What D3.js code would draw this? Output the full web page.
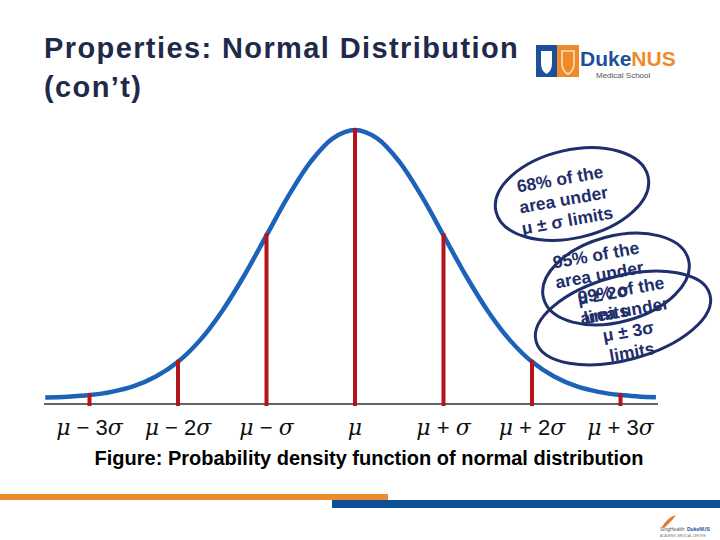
<!DOCTYPE html>
<html>
<head>
<meta charset="utf-8">
<script src="https://cdn.jsdelivr.net/npm/d3@7"></script>
<style>
  body { margin: 0; background: #fff; }
  svg { display: block; }
</style>
</head>
<body>
<svg width="720" height="540"></svg>
<script>
// values: height of the curve relative to its peak, in sigma steps
var zValues = [-3.5, -3.25, -3, -2.75, -2.5, -2.25, -2, -1.75, -1.5, -1.25, -1, -0.75, -0.5, -0.25,
               0, 0.25, 0.5, 0.75, 1, 1.25, 1.5, 1.75, 2, 2.25, 2.5, 2.75, 3, 3.2, 3.4];
var density = [0.002, 0.005, 0.011, 0.023, 0.044, 0.080, 0.135, 0.216, 0.325, 0.458, 0.607, 0.755, 0.882, 0.969,
               1, 0.969, 0.882, 0.755, 0.607, 0.458, 0.325, 0.216, 0.135, 0.080, 0.044, 0.023, 0.011, 0.006, 0.003];
var markerZ = [-3, -2, -1, 0, 1, 2, 3];
var markerDensity = [0.011, 0.135, 0.607, 1, 0.607, 0.135, 0.011];
// tick labels: [mu part, operator, coefficient, sigma]
var tickLabels = [
    ['μ', ' − ', '3', 'σ'],
    ['μ', ' − ', '2', 'σ'],
    ['μ', ' − ', '', 'σ'],
    ['μ', '', '', ''],
    ['μ', ' + ', '', 'σ'],
    ['μ', ' + ', '2', 'σ'],
    ['μ', ' + ', '3', 'σ']
];
var noteLines = [
    ['68% of the', 'area under', 'μ ± σ limits'],
    ['95% of the', 'area under', 'μ ± 2σ', 'limits'],
    ['99% of the', 'area under', 'μ ± 3σ', 'limits']
];

var svg = d3.select('svg');
var navy = '#1f2f6b';
var sans = 'Liberation Sans, Arial, sans-serif';

var x = d3.scaleLinear().domain([-3, 3]).range([89.5, 620.5]);
var y = d3.scaleLinear().domain([0, 1]).range([398, 130]);
var axisY = 404;

// title
var title = svg.append('g')
    .attr('font-family', sans)
    .attr('font-weight', 'bold')
    .attr('font-size', 29)
    .attr('letter-spacing', 1.4)
    .attr('fill', '#1f2a4a');
title.append('text').attr('x', 44).attr('y', 58).text('Properties: Normal Distribution');
title.append('text').attr('x', 44).attr('y', 97).text('(con’t)');

// top-right logo
var logo = svg.append('g').attr('transform', 'translate(536,45)');
logo.append('rect').attr('width', 21).attr('height', 32).attr('fill', '#1d4f9a');
logo.append('path').attr('d', 'M5,6 H16 V18 Q16,26 10.5,29 Q5,26 5,18 Z').attr('fill', '#fff');
logo.append('rect').attr('x', 21).attr('width', 22).attr('height', 32).attr('fill', '#ef8a2b');
logo.append('path').attr('d', 'M26,6 H38 V18 Q38,26 32,29 Q26,26 26,18 Z')
    .attr('fill', 'none').attr('stroke', '#fde3c8').attr('stroke-width', 1.5);
logo.append('text').attr('x', 44).attr('y', 21)
    .attr('font-family', sans).attr('font-weight', 'bold').attr('font-size', 21)
    .call(function (t) {
        t.append('tspan').attr('fill', '#1d4f9a').text('Duke');
        t.append('tspan').attr('fill', '#ef8a2b').text('NUS');
    });
logo.append('text').attr('x', 60).attr('y', 33)
    .attr('font-family', sans).attr('font-size', 8)
    .attr('fill', '#555').text('Medical School');

// axis line
svg.append('line')
    .attr('x1', 44).attr('x2', 658)
    .attr('y1', axisY).attr('y2', axisY)
    .attr('stroke', '#333').attr('stroke-width', 1.5);

// curve
var line = d3.line()
    .x(function (d) { return x(d[0]); })
    .y(function (d) { return y(d[1]); })
    .curve(d3.curveCatmullRom);

svg.append('path')
    .datum(d3.zip(zValues, density))
    .attr('d', line)
    .attr('fill', 'none')
    .attr('stroke', '#1c62b9')
    .attr('stroke-width', 4.5);

// red sigma markers
svg.append('g').selectAll('line')
    .data(d3.zip(markerZ, markerDensity))
    .enter().append('line')
    .attr('x1', function (d) { return x(d[0]); })
    .attr('x2', function (d) { return x(d[0]); })
    .attr('y1', axisY + 2)
    .attr('y2', function (d) { return y(d[1]) - 2; })
    .attr('stroke', '#b3151b')
    .attr('stroke-width', 4);

// tick labels
svg.append('g').selectAll('text')
    .data(d3.zip(markerZ, tickLabels))
    .enter().append('text')
    .attr('x', function (d) { return x(d[0]); })
    .attr('y', 435)
    .attr('text-anchor', 'middle')
    .attr('font-family', 'DejaVu Serif, serif')
    .attr('font-size', 22)
    .attr('fill', '#111')
    .each(function (d) {
        var t = d3.select(this), p = d[1];
        t.append('tspan').attr('font-style', 'italic').text(p[0]);
        if (p[1]) t.append('tspan').attr('font-family', sans).text(p[1]);
        if (p[2]) t.append('tspan').attr('font-family', sans).text(p[2]);
        if (p[3]) t.append('tspan').attr('font-style', 'italic').text(p[3]);
    });

// annotation ellipses
var ellipses = [
    { cx: 572, cy: 194, rx: 78, ry: 44, rot: -13 },
    { cx: 616, cy: 279, rx: 75, ry: 43, rot: -15 },
    { cx: 623, cy: 318, rx: 90, ry: 42, rot: -15 }
];
var textPos = [
    { x: 561, y: 185, step: 21 },
    { x: 597, y: 261, step: 20 },
    { x: 622, y: 296, step: 21 }
];
var ng = svg.append('g');
ellipses.forEach(function (p) {
    ng.append('ellipse')
        .attr('cx', p.cx).attr('cy', p.cy).attr('rx', p.rx).attr('ry', p.ry)
        .attr('transform', 'rotate(' + p.rot + ',' + p.cx + ',' + p.cy + ')')
        .attr('fill', 'none').attr('stroke', navy).attr('stroke-width', 3);
});
noteLines.forEach(function (lines, i) {
    var p = textPos[i];
    var tg = ng.append('g').attr('transform', 'rotate(-10,' + p.x + ',' + p.y + ')');
    lines.forEach(function (s, j) {
        tg.append('text')
            .attr('x', p.x).attr('y', p.y + j * p.step)
            .attr('text-anchor', 'middle')
            .attr('font-family', sans)
            .attr('font-weight', 'bold')
            .attr('font-size', 17.5)
            .attr('fill', navy)
            .text(s);
    });
});

// caption
svg.append('text')
    .attr('x', 369).attr('y', 465)
    .attr('text-anchor', 'middle')
    .attr('font-family', sans)
    .attr('font-weight', 'bold').attr('font-size', 20)
    .attr('fill', '#000')
    .text('Figure: Probability density function of normal distribution');

// bottom bars
svg.append('rect').attr('x', 0).attr('y', 494).attr('width', 388).attr('height', 6).attr('fill', '#ee8a2e');
svg.append('rect').attr('x', 332).attr('y', 500).attr('width', 388).attr('height', 8).attr('fill', '#0d4f96');

// bottom-right small logo
var sl = svg.append('g').attr('transform', 'translate(660,515)');
sl.append('path').attr('d', 'M2,12 Q8,2 16,0 Q12,6 4,13 Z').attr('fill', '#e8752a');
sl.append('text').attr('x', 0).attr('y', 16).attr('font-family', sans)
    .attr('font-size', 5).attr('fill', '#555').text('SingHealth');
sl.append('text').attr('x', 27).attr('y', 16).attr('font-family', sans)
    .attr('font-size', 5).attr('font-weight', 'bold').attr('fill', '#1d4f9a').text('DukeNUS');
sl.append('text').attr('x', 0).attr('y', 22).attr('font-family', sans)
    .attr('font-size', 3.2).attr('fill', '#777').text('ACADEMIC MEDICAL CENTRE');
sl.append('line').attr('x1', 10).attr('x2', 40).attr('y1', 26).attr('y2', 26)
    .attr('stroke', '#999').attr('stroke-width', 0.6);
</script>
</body>
</html>
